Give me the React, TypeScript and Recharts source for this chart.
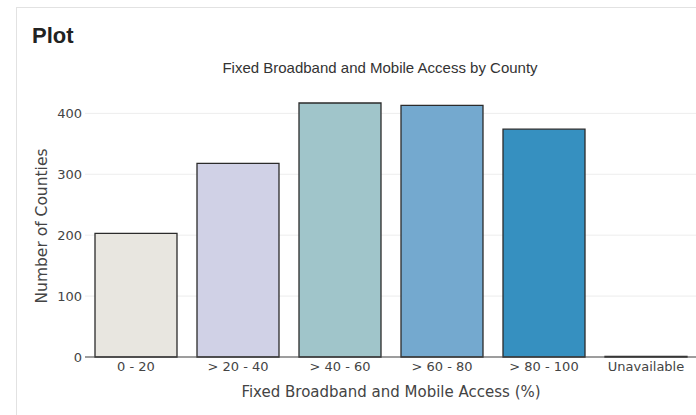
import React from 'react';
import { BarChart, Bar, Cell, XAxis, YAxis, CartesianGrid, Label } from 'recharts';

const categories = ['0 - 20', '> 20 - 40', '> 40 - 60', '> 60 - 80', '> 80 - 100', 'Unavailable'];
const counties = [203, 318, 417, 413, 374, 1];
const barColors = ['#e8e6e0', '#d0d1e6', '#a0c5ca', '#74a9cf', '#3690c0', '#3690c0'];
const yTicks = [0, 100, 200, 300, 400];

const chartData = categories.map((range, i) => ({ range, counties: counties[i] }));

const tickFont = { fontFamily: 'DejaVu Sans', fontSize: 13, fill: '#444' };

const YTitle = ({ viewBox }: any) => {
  const cy = viewBox.y + viewBox.height / 2 + 3;
  return (
    <text
      x={47}
      y={cy}
      transform={`rotate(-90, 47, ${cy})`}
      textAnchor="middle"
      style={{ fontFamily: 'DejaVu Sans', fontSize: 15.5, fill: '#444' }}
    >
      Number of Counties
    </text>
  );
};

const XTitle = ({ viewBox }: any) => (
  <text
    x={viewBox.x + viewBox.width / 2}
    y={viewBox.y + 40}
    textAnchor="middle"
    style={{ fontFamily: 'DejaVu Sans', fontSize: 15, fill: '#444' }}
  >
    Fixed Broadband and Mobile Access (%)
  </text>
);

export default function App() {
  return (
    <div
      style={{
        position: 'fixed',
        left: 0,
        top: 0,
        width: 696,
        height: 415,
        overflow: 'hidden',
        background: '#fff',
      }}
    >
      <div
        style={{
          position: 'absolute',
          left: 16,
          top: 7,
          width: 720,
          height: 440,
          border: '1px solid #e2e2e2',
          boxSizing: 'border-box',
        }}
      />
      <div
        style={{
          position: 'absolute',
          left: 32,
          top: 25,
          fontFamily: 'Liberation Sans',
          fontWeight: 700,
          fontSize: 22,
          lineHeight: '22px',
          color: '#222',
        }}
      >
        Plot
      </div>
      <div
        style={{
          position: 'absolute',
          left: 180,
          top: 59,
          width: 400,
          textAlign: 'center',
          fontFamily: 'Liberation Sans',
          fontSize: 15,
          lineHeight: '17px',
          color: '#333',
        }}
      >
        Fixed Broadband and Mobile Access by County
      </div>
      <div style={{ position: 'absolute', left: 0, top: 0 }}>
        <BarChart
          width={697}
          height={415}
          data={chartData}
          margin={{ top: 89, right: 0, bottom: 0, left: 0 }}
          barCategoryGap={10}
        >
          <CartesianGrid vertical={false} stroke="#ededed" horizontalValues={yTicks} />
          <XAxis
            dataKey="range"
            height={58}
            tickLine={false}
            tickSize={0}
            tickMargin={5}
            axisLine={{ stroke: '#444' }}
            tick={tickFont}
            interval={0}
          >
            <Label content={<XTitle />} />
          </XAxis>
          <YAxis
            width={85}
            domain={[0, 440]}
            ticks={yTicks}
            tickLine={false}
            tickSize={0}
            tickMargin={3}
            axisLine={false}
            tick={tickFont}
          >
            <Label content={<YTitle />} />
          </YAxis>
          <Bar dataKey="counties" stroke="#2b2b2b" strokeWidth={1.3} isAnimationActive={false}>
            {chartData.map((d, i) => (
              <Cell key={d.range} fill={barColors[i]} />
            ))}
          </Bar>
        </BarChart>
      </div>
    </div>
  );
}
